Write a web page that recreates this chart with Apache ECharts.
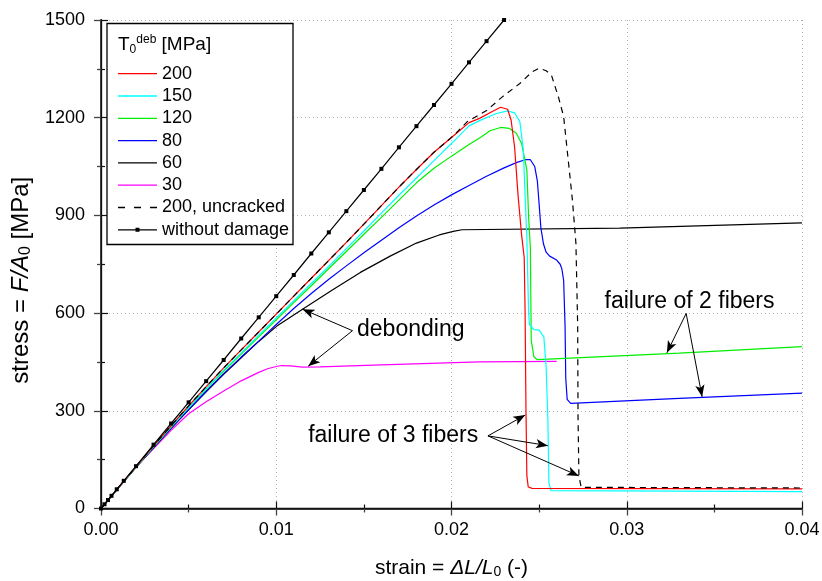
<!DOCTYPE html>
<html>
<head>
<meta charset="utf-8">
<script src="https://cdn.jsdelivr.net/npm/echarts@6/dist/echarts.min.js"></script>
<style>
  html, body { margin: 0; padding: 0; background: #fff; }
  #chart { width: 822px; height: 581px; }
</style>
</head>
<body>
<div id="chart"></div>
<script>
// Stress–strain response of the fibre bundle for several debonding strengths T0^deb.
// Each curve is a list of [strain (-), stress (MPa)] pairs.

const curve200 = [
  [0, 0], [0.001, 65], [0.002, 129], [0.003, 192], [0.004, 254], [0.005, 315], [0.006, 374],
  [0.007, 432], [0.008, 487], [0.009, 542], [0.010, 597], [0.011, 652], [0.012, 707],
  [0.013, 762], [0.014, 817], [0.015, 873], [0.016, 930], [0.017, 987], [0.018, 1041],
  [0.019, 1094], [0.0201, 1144], [0.0210, 1185], [0.0216, 1198], [0.0223, 1218], [0.0228, 1232],
  [0.0232, 1226], [0.0234, 1193], [0.0236, 1110], [0.0238, 960], [0.0240, 840], [0.02415, 770],
  [0.0242, 600], [0.02425, 300], [0.0243, 100], [0.02438, 66], [0.0246, 62], [0.04, 60]
];

const curve150 = [
  [0, 0], [0.001, 65], [0.002, 128], [0.003, 190], [0.004, 251], [0.005, 310], [0.006, 368],
  [0.007, 425], [0.008, 478], [0.009, 532], [0.010, 585], [0.011, 638], [0.012, 691],
  [0.013, 744], [0.014, 798], [0.015, 852], [0.016, 907], [0.017, 962], [0.018, 1015],
  [0.019, 1068], [0.0201, 1126], [0.0210, 1175], [0.0216, 1191], [0.02256, 1213], [0.0232, 1221],
  [0.0236, 1215], [0.0239, 1188], [0.0241, 1101], [0.0242, 960], [0.0243, 830], [0.0244, 600],
  [0.02445, 565], [0.0247, 549], [0.0250, 548], [0.02527, 527], [0.0254, 435], [0.0255, 272],
  [0.02556, 77], [0.02568, 55], [0.04, 52]
];

const curve120 = [
  [0, 0], [0.001, 64], [0.002, 127], [0.003, 189], [0.004, 250], [0.005, 310], [0.006, 367],
  [0.007, 421], [0.008, 474], [0.009, 527], [0.010, 579], [0.011, 632], [0.012, 684],
  [0.013, 737], [0.014, 789], [0.015, 842], [0.016, 894], [0.017, 947], [0.018, 1000],
  [0.019, 1045], [0.020, 1082], [0.021, 1118], [0.0216, 1138], [0.0222, 1160], [0.0228, 1170],
  [0.0233, 1167], [0.0237, 1152], [0.0240, 1121], [0.0243, 1039], [0.0244, 896], [0.0245, 800],
  [0.02455, 517], [0.0247, 466], [0.0249, 457], [0.033, 477], [0.04, 497]
];

const curve80 = [
  [0, 0], [0.001, 64], [0.002, 127], [0.003, 188], [0.004, 247], [0.005, 304], [0.006, 360],
  [0.007, 414], [0.008, 465], [0.009, 514], [0.010, 565], [0.011, 614], [0.012, 660],
  [0.013, 704], [0.014, 745], [0.015, 785], [0.016, 824], [0.017, 862], [0.018, 898],
  [0.019, 932], [0.020, 963], [0.021, 992], [0.022, 1020], [0.023, 1046], [0.0237, 1062],
  [0.0242, 1071], [0.0245, 1071], [0.02475, 1050], [0.0249, 1005], [0.0250, 935], [0.0251, 862],
  [0.02525, 812], [0.0254, 787], [0.0256, 775], [0.0260, 763], [0.0262, 750], [0.0263, 735],
  [0.0264, 700], [0.02648, 560], [0.02652, 400], [0.0266, 335], [0.0268, 323], [0.033, 338],
  [0.04, 354]
];

const curve60 = [
  [0, 0], [0.001, 63], [0.002, 126], [0.003, 187], [0.004, 246], [0.005, 303], [0.006, 358],
  [0.007, 412], [0.008, 463], [0.009, 513], [0.0101, 563], [0.0115, 612], [0.0132, 671],
  [0.0148, 725], [0.0165, 775], [0.018, 815], [0.0193, 840], [0.0201, 851], [0.0206, 856],
  [0.0296, 861], [0.04, 877]
];

const curve30 = [
  [0, 0], [0.001, 64], [0.00184, 118], [0.003, 184], [0.004, 240], [0.005, 291], [0.006, 328],
  [0.007, 361], [0.008, 392], [0.009, 418], [0.0095, 429], [0.010, 436], [0.0103, 439],
  [0.0108, 438], [0.0115, 434], [0.0125, 435], [0.016, 441], [0.0216, 450], [0.026, 452]
];

const curve200Uncracked = [
  [0, 0], [0.001, 65], [0.002, 129], [0.003, 192], [0.004, 254], [0.005, 315], [0.006, 374],
  [0.007, 432], [0.008, 487], [0.009, 542], [0.010, 597], [0.011, 652], [0.012, 707],
  [0.013, 762], [0.014, 817], [0.015, 873], [0.016, 930], [0.017, 987], [0.018, 1041],
  [0.019, 1094], [0.0201, 1144], [0.0209, 1188], [0.0220, 1222], [0.0229, 1264], [0.0239, 1305],
  [0.0246, 1341], [0.0250, 1352], [0.0254, 1344], [0.0257, 1331], [0.0261, 1264], [0.0264, 1203],
  [0.0266, 1101], [0.0269, 947], [0.0271, 814], [0.0272, 560], [0.02722, 282], [0.02727, 100],
  [0.0274, 65], [0.04, 63]
];

const curveUndamaged = [
  [0, 0], [0.0002, 13], [0.0004, 26], [0.0006, 39], [0.0009, 59], [0.0013, 85], [0.002, 130],
  [0.003, 196], [0.004, 261], [0.005, 326], [0.006, 391], [0.007, 456], [0.008, 522],
  [0.009, 587], [0.010, 652], [0.011, 717], [0.012, 783], [0.013, 848], [0.014, 913],
  [0.015, 978], [0.016, 1043], [0.017, 1109], [0.018, 1174], [0.019, 1239], [0.020, 1304],
  [0.021, 1370], [0.022, 1435], [0.023, 1500]
];

// Axis ranges and tick steps
const xRange = [0, 0.04];
const xStep = 0.01;
const yRange = [0, 1500];
const yStep = 300;

// Legend entries, in display order
const legendNames = ['200', '150', '120', '80', '60', '30', '200, uncracked', 'without damage'];

// Annotation text: [label, strain, stress] (left edge, vertical middle)
const noteLabels = [
  ['debonding', 0.01461, 548],
  ['failure of 3 fibers', 0.01182, 223],
  ['failure of 2 fibers', 0.02873, 635]
];

// Annotation arrows: [tail strain, tail stress, tip strain, tip stress]
const noteArrows = [
  [0.01435, 546, 0.0115, 612],
  [0.01435, 546, 0.01182, 437],
  [0.02208, 223, 0.02421, 287],
  [0.02208, 223, 0.0255, 193],
  [0.02208, 223, 0.02727, 100],
  [0.03339, 599, 0.03229, 478],
  [0.03339, 599, 0.0343, 343]
];

const FONT = '"Liberation Sans", Arial, Helvetica, sans-serif';

// Legend glyphs: plain line, dashed line, line with a small square marker
const ICON_LINE = 'path://M0,0h39v1.3h-39z';
const ICON_DASH = 'path://M0,0h7v1.3h-7z M16,0h7v1.3h-7z M32,0h7v1.3h-7z';
const ICON_MARK = 'path://M0,1.35h39v1.3h-39z M17.5,0h4v4h-4z';

const chart = echarts.init(document.getElementById('chart'), null, { renderer: 'canvas' });

function curve(name, data, color, extra) {
  return Object.assign({
    type: 'line',
    name: name,
    data: data,
    symbol: 'none',
    smooth: false,
    clip: true,
    lineStyle: { color: color, width: 1.2 },
    itemStyle: { color: color },
    emphasis: { disabled: true },
    animation: false,
    z: 3
  }, extra || {});
}

const hiddenAxisCommon = {
  axisLabel: { show: false },
  splitLine: { show: false },
  axisLine: { show: true, lineStyle: { color: '#111', width: 1.3 } },
  axisTick: { show: true, inside: false, length: 7, lineStyle: { color: '#111', width: 1.2 } },
  minorTick: { show: true, splitNumber: 2, length: 4, lineStyle: { color: '#111', width: 1.2 } }
};

function titleRich(size, subSize, subDrop) {
  return {
    n: { fontSize: size, fontFamily: FONT, color: '#000' },
    i: { fontSize: size, fontFamily: FONT, fontStyle: 'italic', color: '#000' },
    s: { fontSize: subSize, fontFamily: FONT, color: '#000', verticalAlign: 'bottom', padding: [subDrop, 0, 0, 0] }
  };
}

const option = {
  backgroundColor: '#fff',
  animation: false,
  grid: {
    left: 101, right: 20, top: 20, bottom: 72.5,
    containLabel: false, outerBoundsMode: 'none'
  },
  xAxis: [
    {
      type: 'value', position: 'bottom',
      min: xRange[0], max: xRange[1], interval: xStep,
      name: '{n|strain = }{i|ΔL/L}{s|0}{n| (-)}',
      nameLocation: 'middle', nameGap: 49,
      nameTextStyle: { rich: titleRich(21, 14, 8) },
      axisLine: { show: true, lineStyle: { color: '#444', width: 2 } },
      axisTick: { show: true, inside: false, length: 7, lineStyle: { color: '#444', width: 1.3 } },
      minorTick: { show: true, splitNumber: 2, length: 4, lineStyle: { color: '#444', width: 1.3 } },
      axisLabel: {
        margin: 13, fontSize: 18, fontFamily: FONT, color: '#000',
        formatter: v => v.toFixed(2)
      },
      splitLine: { show: true, lineStyle: { color: '#b0b0b0', type: [1, 3], width: 1 } }
    },
    Object.assign({
      type: 'value', position: 'top',
      min: xRange[0], max: xRange[1], interval: xStep
    }, hiddenAxisCommon)
  ],
  yAxis: [
    {
      type: 'value', position: 'left',
      min: yRange[0], max: yRange[1], interval: yStep,
      name: '{n|stress = }{i|F/A}{s|0}{n| [MPa]}',
      nameLocation: 'middle', nameGap: 63, nameRotate: 90,
      nameTextStyle: { rich: titleRich(24, 16, 9), padding: [0, 32, 0, 0] },
      axisLine: { show: true, lineStyle: { color: '#444', width: 2 } },
      axisTick: { show: true, inside: false, length: 7, lineStyle: { color: '#444', width: 1.3 } },
      minorTick: { show: true, splitNumber: 2, length: 4, lineStyle: { color: '#444', width: 1.3 } },
      axisLabel: {
        margin: 16, fontSize: 18, fontFamily: FONT, color: '#000',
        formatter: v => String(v)
      },
      splitLine: { show: true, lineStyle: { color: '#b0b0b0', type: [1, 3], width: 1 } }
    },
    Object.assign({
      type: 'value', position: 'right',
      min: yRange[0], max: yRange[1], interval: yStep
    }, hiddenAxisCommon)
  ],
  legend: {
    data: legendNames.map(n => ({
      name: n,
      icon: n === 'without damage' ? ICON_MARK : (n === '200, uncracked' ? ICON_DASH : ICON_LINE)
    })),
    orient: 'vertical',
    left: 118, top: 64.7, padding: 0,
    itemWidth: 39, itemHeight: 14, itemGap: 4.3,
    itemStyle: { borderWidth: 0 },
    textStyle: { fontSize: 18, fontFamily: FONT, color: '#000' },
    selectedMode: false,
    z: 20
  },
  graphic: [
    {
      type: 'rect', z: 10,
      shape: { x: 107, y: 23.5, width: 186, height: 221 },
      style: { fill: '#fff', stroke: '#000', lineWidth: 1.3 }
    },
    {
      type: 'text', z: 11, x: 118, y: 45,
      style: {
        text: '{t|T}{sub|0}{sup|deb}{t| [MPa]}',
        verticalAlign: 'middle',
        rich: {
          t: { fontSize: 19, fontFamily: FONT, fill: '#000', color: '#000' },
          sub: { fontSize: 12, fontFamily: FONT, fill: '#000', color: '#000', verticalAlign: 'bottom', padding: [10, 0, 0, 0] },
          sup: { fontSize: 12, fontFamily: FONT, fill: '#000', color: '#000', verticalAlign: 'top', padding: [0, 0, 8, 0] }
        }
      }
    }
  ],
  series: [
    curve('without damage', curveUndamaged, '#000000', {
      symbol: 'rect', symbolSize: 4, showSymbol: true, showAllSymbol: true, z: 4
    }),
    curve('30', curve30, '#ff00ff'),
    curve('60', curve60, '#000000'),
    curve('80', curve80, '#0000ff'),
    curve('120', curve120, '#00ee00'),
    curve('150', curve150, '#00ffff'),
    curve('200', curve200, '#ff0000'),
    curve('200, uncracked', curve200Uncracked, '#000000', {
      lineStyle: { color: '#000', width: 1.2, type: [6, 5] }, z: 5
    }),
    {
      type: 'line',
      name: 'notes',
      data: [],
      symbol: 'none',
      silent: true,
      animation: false,
      markLine: {
        silent: true,
        animation: false,
        symbol: ['none', 'arrow'],
        symbolSize: [7, 12],
        lineStyle: { color: '#000', width: 1, type: 'solid' },
        label: { show: false },
        data: noteArrows.map(a => [{ coord: [a[0], a[1]] }, { coord: [a[2], a[3]] }])
      },
      markPoint: {
        silent: true,
        animation: false,
        symbol: 'rect',
        symbolSize: 0,
        itemStyle: { color: 'rgba(0,0,0,0)' },
        label: {
          show: true, position: 'right', distance: 0,
          formatter: '{b}',
          fontSize: 23, fontFamily: FONT, color: '#000'
        },
        data: noteLabels.map(n => ({ name: n[0], coord: [n[1], n[2]] }))
      }
    }
  ]
};

chart.setOption(option);
</script>
</body>
</html>
